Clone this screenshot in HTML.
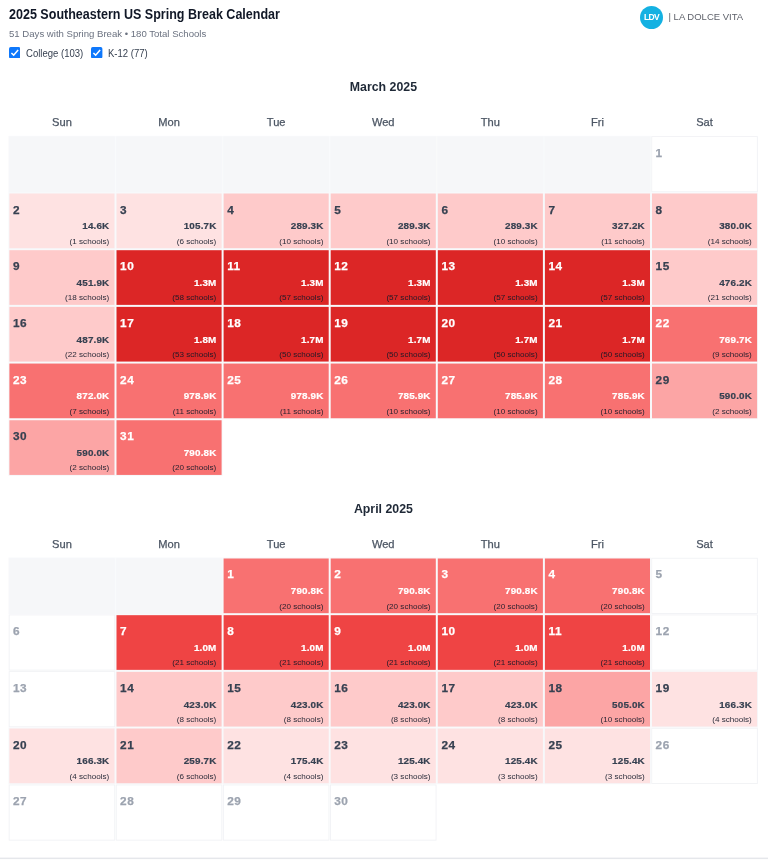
<!DOCTYPE html>
<html lang="en"><head><meta charset="utf-8"><title>2025 Southeastern US Spring Break Calendar</title>
<style>
html,body{margin:0;padding:0;background:#fff;}
body{font-family:"Liberation Sans",sans-serif;color:#1f2937;}
.page{position:relative;width:768px;height:861px;overflow:hidden;background:#fff;}
.title{position:absolute;left:9px;top:6px;margin:0;font-size:14.4px;line-height:17px;transform-origin:0 0;transform:scaleX(0.871);font-weight:700;color:#111827;white-space:nowrap;}
.sub{position:absolute;left:9px;top:27px;font-size:9.6px;line-height:13px;color:#6b7280;white-space:nowrap;}
.cb{position:absolute;width:11.4px;height:11.4px;top:46.8px;}
.cb svg{display:block;width:11.4px;height:11.4px;}
.cb1{left:8.8px}.cb2{left:91.4px}
.lb{position:absolute;top:46.6px;font-size:10.6px;transform-origin:0 50%;transform:scaleX(.9);line-height:13px;color:#374151;white-space:nowrap;}
.lb1{left:26px}.lb2{left:107.6px}
.logo{position:absolute;left:640px;top:6px;width:23px;height:23px;border-radius:50%;background:#14b1e2;color:#fff;font-weight:700;font-size:8.5px;letter-spacing:-0.7px;line-height:23.4px;text-align:center;}
.brand{position:absolute;left:668.5px;top:11px;font-size:9.5px;line-height:12px;color:#5f626b;white-space:nowrap;}
.mt{position:absolute;left:0;width:766.8px;text-align:center;font-size:12.35px;line-height:16px;font-weight:700;color:#1f2937;}
.dh{position:absolute;width:107.1px;text-align:center;font-size:11.1px;line-height:14px;color:#4b5563;-webkit-text-stroke:.25px #4b5563;}
.bg{position:absolute;left:0;top:0;display:block;}
.txt{position:absolute;left:0;top:0;width:768px;height:861px;will-change:transform;}
.d{position:absolute;-webkit-text-stroke:.25px currentColor;font-size:11.8px;letter-spacing:.5px;line-height:14px;font-weight:700;color:#374151;white-space:nowrap;}
.d.g{color:#9ca3af;}
.v{position:absolute;-webkit-text-stroke:.2px currentColor;letter-spacing:.15px;margin-right:-.15px;font-size:9.9px;line-height:12px;font-weight:700;color:#374151;white-space:nowrap;}
.s{position:absolute;font-size:8.1px;line-height:10px;color:rgba(17,24,39,.92);white-space:nowrap;}
.w{color:#fff;}

</style></head><body>
<div class="page">
<svg class="bg" width="768" height="861" viewBox="0 0 768 861"><rect x="8.40" y="135.84" width="107.10" height="56.68" fill="#f8f9fb"/><rect x="9.20" y="136.64" width="105.50" height="55.88" fill="#f6f7f9"/><rect x="115.50" y="135.84" width="107.10" height="56.68" fill="#f8f9fb"/><rect x="116.30" y="136.64" width="105.50" height="55.88" fill="#f6f7f9"/><rect x="222.60" y="135.84" width="107.10" height="56.68" fill="#f8f9fb"/><rect x="223.40" y="136.64" width="105.50" height="55.88" fill="#f6f7f9"/><rect x="329.70" y="135.84" width="107.10" height="56.68" fill="#f8f9fb"/><rect x="330.50" y="136.64" width="105.50" height="55.88" fill="#f6f7f9"/><rect x="436.80" y="135.84" width="107.10" height="56.68" fill="#f8f9fb"/><rect x="437.60" y="136.64" width="105.50" height="55.88" fill="#f6f7f9"/><rect x="543.90" y="135.84" width="107.10" height="56.68" fill="#f8f9fb"/><rect x="544.70" y="136.64" width="105.50" height="55.88" fill="#f6f7f9"/><rect x="651.30" y="136.14" width="106.50" height="56.08" fill="#f1f2f5"/><rect x="652.20" y="137.04" width="104.70" height="54.28" fill="#ffffff"/><rect x="8.40" y="192.52" width="107.10" height="56.68" fill="#f7f8fa"/><rect x="9.40" y="193.52" width="105.10" height="54.68" fill="#fee2e2"/><rect x="115.50" y="192.52" width="107.10" height="56.68" fill="#f7f8fa"/><rect x="116.50" y="193.52" width="105.10" height="54.68" fill="#fee2e2"/><rect x="222.60" y="192.52" width="107.10" height="56.68" fill="#f7f8fa"/><rect x="223.60" y="193.52" width="105.10" height="54.68" fill="#fecaca"/><rect x="329.70" y="192.52" width="107.10" height="56.68" fill="#f7f8fa"/><rect x="330.70" y="193.52" width="105.10" height="54.68" fill="#fecaca"/><rect x="436.80" y="192.52" width="107.10" height="56.68" fill="#f7f8fa"/><rect x="437.80" y="193.52" width="105.10" height="54.68" fill="#fecaca"/><rect x="543.90" y="192.52" width="107.10" height="56.68" fill="#f7f8fa"/><rect x="544.90" y="193.52" width="105.10" height="54.68" fill="#fecaca"/><rect x="651.00" y="192.52" width="107.10" height="56.68" fill="#f7f8fa"/><rect x="652.00" y="193.52" width="105.10" height="54.68" fill="#fecaca"/><rect x="8.40" y="249.20" width="107.10" height="56.68" fill="#f7f8fa"/><rect x="9.40" y="250.20" width="105.10" height="54.68" fill="#fecaca"/><rect x="115.50" y="249.20" width="107.10" height="56.68" fill="#f7f8fa"/><rect x="116.50" y="250.20" width="105.10" height="54.68" fill="#dc2626"/><rect x="222.60" y="249.20" width="107.10" height="56.68" fill="#f7f8fa"/><rect x="223.60" y="250.20" width="105.10" height="54.68" fill="#dc2626"/><rect x="329.70" y="249.20" width="107.10" height="56.68" fill="#f7f8fa"/><rect x="330.70" y="250.20" width="105.10" height="54.68" fill="#dc2626"/><rect x="436.80" y="249.20" width="107.10" height="56.68" fill="#f7f8fa"/><rect x="437.80" y="250.20" width="105.10" height="54.68" fill="#dc2626"/><rect x="543.90" y="249.20" width="107.10" height="56.68" fill="#f7f8fa"/><rect x="544.90" y="250.20" width="105.10" height="54.68" fill="#dc2626"/><rect x="651.00" y="249.20" width="107.10" height="56.68" fill="#f7f8fa"/><rect x="652.00" y="250.20" width="105.10" height="54.68" fill="#fecaca"/><rect x="8.40" y="305.88" width="107.10" height="56.68" fill="#f7f8fa"/><rect x="9.40" y="306.88" width="105.10" height="54.68" fill="#fecaca"/><rect x="115.50" y="305.88" width="107.10" height="56.68" fill="#f7f8fa"/><rect x="116.50" y="306.88" width="105.10" height="54.68" fill="#dc2626"/><rect x="222.60" y="305.88" width="107.10" height="56.68" fill="#f7f8fa"/><rect x="223.60" y="306.88" width="105.10" height="54.68" fill="#dc2626"/><rect x="329.70" y="305.88" width="107.10" height="56.68" fill="#f7f8fa"/><rect x="330.70" y="306.88" width="105.10" height="54.68" fill="#dc2626"/><rect x="436.80" y="305.88" width="107.10" height="56.68" fill="#f7f8fa"/><rect x="437.80" y="306.88" width="105.10" height="54.68" fill="#dc2626"/><rect x="543.90" y="305.88" width="107.10" height="56.68" fill="#f7f8fa"/><rect x="544.90" y="306.88" width="105.10" height="54.68" fill="#dc2626"/><rect x="651.00" y="305.88" width="107.10" height="56.68" fill="#f7f8fa"/><rect x="652.00" y="306.88" width="105.10" height="54.68" fill="#f87171"/><rect x="8.40" y="362.56" width="107.10" height="56.68" fill="#f7f8fa"/><rect x="9.40" y="363.56" width="105.10" height="54.68" fill="#f87171"/><rect x="115.50" y="362.56" width="107.10" height="56.68" fill="#f7f8fa"/><rect x="116.50" y="363.56" width="105.10" height="54.68" fill="#f87171"/><rect x="222.60" y="362.56" width="107.10" height="56.68" fill="#f7f8fa"/><rect x="223.60" y="363.56" width="105.10" height="54.68" fill="#f87171"/><rect x="329.70" y="362.56" width="107.10" height="56.68" fill="#f7f8fa"/><rect x="330.70" y="363.56" width="105.10" height="54.68" fill="#f87171"/><rect x="436.80" y="362.56" width="107.10" height="56.68" fill="#f7f8fa"/><rect x="437.80" y="363.56" width="105.10" height="54.68" fill="#f87171"/><rect x="543.90" y="362.56" width="107.10" height="56.68" fill="#f7f8fa"/><rect x="544.90" y="363.56" width="105.10" height="54.68" fill="#f87171"/><rect x="651.00" y="362.56" width="107.10" height="56.68" fill="#f7f8fa"/><rect x="652.00" y="363.56" width="105.10" height="54.68" fill="#fca5a5"/><rect x="8.40" y="419.24" width="107.10" height="56.68" fill="#f7f8fa"/><rect x="9.40" y="420.24" width="105.10" height="54.68" fill="#fca5a5"/><rect x="115.50" y="419.24" width="107.10" height="56.68" fill="#f7f8fa"/><rect x="116.50" y="420.24" width="105.10" height="54.68" fill="#f87171"/><rect x="8.40" y="557.50" width="107.10" height="56.68" fill="#f8f9fb"/><rect x="9.20" y="558.30" width="105.50" height="55.88" fill="#f6f7f9"/><rect x="115.50" y="557.50" width="107.10" height="56.68" fill="#f8f9fb"/><rect x="116.30" y="558.30" width="105.50" height="55.88" fill="#f6f7f9"/><rect x="222.60" y="557.50" width="107.10" height="56.68" fill="#f7f8fa"/><rect x="223.60" y="558.50" width="105.10" height="54.68" fill="#f87171"/><rect x="329.70" y="557.50" width="107.10" height="56.68" fill="#f7f8fa"/><rect x="330.70" y="558.50" width="105.10" height="54.68" fill="#f87171"/><rect x="436.80" y="557.50" width="107.10" height="56.68" fill="#f7f8fa"/><rect x="437.80" y="558.50" width="105.10" height="54.68" fill="#f87171"/><rect x="543.90" y="557.50" width="107.10" height="56.68" fill="#f7f8fa"/><rect x="544.90" y="558.50" width="105.10" height="54.68" fill="#f87171"/><rect x="651.30" y="557.80" width="106.50" height="56.08" fill="#f1f2f5"/><rect x="652.20" y="558.70" width="104.70" height="54.28" fill="#ffffff"/><rect x="8.70" y="614.48" width="106.50" height="56.08" fill="#f1f2f5"/><rect x="9.60" y="615.38" width="104.70" height="54.28" fill="#ffffff"/><rect x="115.50" y="614.18" width="107.10" height="56.68" fill="#f7f8fa"/><rect x="116.50" y="615.18" width="105.10" height="54.68" fill="#ef4444"/><rect x="222.60" y="614.18" width="107.10" height="56.68" fill="#f7f8fa"/><rect x="223.60" y="615.18" width="105.10" height="54.68" fill="#ef4444"/><rect x="329.70" y="614.18" width="107.10" height="56.68" fill="#f7f8fa"/><rect x="330.70" y="615.18" width="105.10" height="54.68" fill="#ef4444"/><rect x="436.80" y="614.18" width="107.10" height="56.68" fill="#f7f8fa"/><rect x="437.80" y="615.18" width="105.10" height="54.68" fill="#ef4444"/><rect x="543.90" y="614.18" width="107.10" height="56.68" fill="#f7f8fa"/><rect x="544.90" y="615.18" width="105.10" height="54.68" fill="#ef4444"/><rect x="651.30" y="614.48" width="106.50" height="56.08" fill="#f1f2f5"/><rect x="652.20" y="615.38" width="104.70" height="54.28" fill="#ffffff"/><rect x="8.70" y="671.16" width="106.50" height="56.08" fill="#f1f2f5"/><rect x="9.60" y="672.06" width="104.70" height="54.28" fill="#ffffff"/><rect x="115.50" y="670.86" width="107.10" height="56.68" fill="#f7f8fa"/><rect x="116.50" y="671.86" width="105.10" height="54.68" fill="#fecaca"/><rect x="222.60" y="670.86" width="107.10" height="56.68" fill="#f7f8fa"/><rect x="223.60" y="671.86" width="105.10" height="54.68" fill="#fecaca"/><rect x="329.70" y="670.86" width="107.10" height="56.68" fill="#f7f8fa"/><rect x="330.70" y="671.86" width="105.10" height="54.68" fill="#fecaca"/><rect x="436.80" y="670.86" width="107.10" height="56.68" fill="#f7f8fa"/><rect x="437.80" y="671.86" width="105.10" height="54.68" fill="#fecaca"/><rect x="543.90" y="670.86" width="107.10" height="56.68" fill="#f7f8fa"/><rect x="544.90" y="671.86" width="105.10" height="54.68" fill="#fca5a5"/><rect x="651.00" y="670.86" width="107.10" height="56.68" fill="#f7f8fa"/><rect x="652.00" y="671.86" width="105.10" height="54.68" fill="#fee2e2"/><rect x="8.40" y="727.54" width="107.10" height="56.68" fill="#f7f8fa"/><rect x="9.40" y="728.54" width="105.10" height="54.68" fill="#fee2e2"/><rect x="115.50" y="727.54" width="107.10" height="56.68" fill="#f7f8fa"/><rect x="116.50" y="728.54" width="105.10" height="54.68" fill="#fecaca"/><rect x="222.60" y="727.54" width="107.10" height="56.68" fill="#f7f8fa"/><rect x="223.60" y="728.54" width="105.10" height="54.68" fill="#fee2e2"/><rect x="329.70" y="727.54" width="107.10" height="56.68" fill="#f7f8fa"/><rect x="330.70" y="728.54" width="105.10" height="54.68" fill="#fee2e2"/><rect x="436.80" y="727.54" width="107.10" height="56.68" fill="#f7f8fa"/><rect x="437.80" y="728.54" width="105.10" height="54.68" fill="#fee2e2"/><rect x="543.90" y="727.54" width="107.10" height="56.68" fill="#f7f8fa"/><rect x="544.90" y="728.54" width="105.10" height="54.68" fill="#fee2e2"/><rect x="651.30" y="727.84" width="106.50" height="56.08" fill="#f1f2f5"/><rect x="652.20" y="728.74" width="104.70" height="54.28" fill="#ffffff"/><rect x="8.70" y="784.52" width="106.50" height="56.08" fill="#f1f2f5"/><rect x="9.60" y="785.42" width="104.70" height="54.28" fill="#ffffff"/><rect x="115.80" y="784.52" width="106.50" height="56.08" fill="#f1f2f5"/><rect x="116.70" y="785.42" width="104.70" height="54.28" fill="#ffffff"/><rect x="222.90" y="784.52" width="106.50" height="56.08" fill="#f1f2f5"/><rect x="223.80" y="785.42" width="104.70" height="54.28" fill="#ffffff"/><rect x="330.00" y="784.52" width="106.50" height="56.08" fill="#f1f2f5"/><rect x="330.90" y="785.42" width="104.70" height="54.28" fill="#ffffff"/><rect x="0" y="857.6" width="768" height="1.5" fill="#e5e7eb"/></svg>
<div class="txt">
<h1 class="title">2025 Southeastern US Spring Break Calendar</h1>
<div class="sub">51 Days with Spring Break • 180 Total Schools</div>
<div class="cb cb1"><svg viewBox="0 0 11 11"><rect width="11" height="11" rx="1.6" fill="#0f78fb"/><path d="M2.3 5.8 L4.5 7.9 L8.8 2.8" fill="none" stroke="#fff" stroke-width="1.5" stroke-linecap="butt"/></svg></div>
<div class="lb lb1">College (103)</div>
<div class="cb cb2"><svg viewBox="0 0 11 11"><rect width="11" height="11" rx="1.6" fill="#0f78fb"/><path d="M2.3 5.8 L4.5 7.9 L8.8 2.8" fill="none" stroke="#fff" stroke-width="1.5" stroke-linecap="butt"/></svg></div>
<div class="lb lb2">K-12 (77)</div>
<div class="logo"><span>LDV</span></div>
<div class="brand">| LA DOLCE VITA</div>
<div class="mt" style="top:79px">March 2025</div>
<div class="dh" style="left:8.40px;top:115px">Sun</div>
<div class="dh" style="left:115.50px;top:115px">Mon</div>
<div class="dh" style="left:222.60px;top:115px">Tue</div>
<div class="dh" style="left:329.70px;top:115px">Wed</div>
<div class="dh" style="left:436.80px;top:115px">Thu</div>
<div class="dh" style="left:543.90px;top:115px">Fri</div>
<div class="dh" style="left:651.00px;top:115px">Sat</div>
<span class="d g" style="left:655.60px;top:145.91px">1</span>
<span class="d" style="left:13.00px;top:202.91px">2</span><span class="v" style="right:658.80px;top:219.60px">14.6K</span><span class="s" style="right:658.80px;top:237.19px">(1 schools)</span>
<span class="d" style="left:120.10px;top:202.91px">3</span><span class="v" style="right:551.70px;top:219.60px">105.7K</span><span class="s" style="right:551.70px;top:237.19px">(6 schools)</span>
<span class="d" style="left:227.20px;top:202.91px">4</span><span class="v" style="right:444.60px;top:219.60px">289.3K</span><span class="s" style="right:444.60px;top:237.19px">(10 schools)</span>
<span class="d" style="left:334.30px;top:202.91px">5</span><span class="v" style="right:337.50px;top:219.60px">289.3K</span><span class="s" style="right:337.50px;top:237.19px">(10 schools)</span>
<span class="d" style="left:441.40px;top:202.91px">6</span><span class="v" style="right:230.40px;top:219.60px">289.3K</span><span class="s" style="right:230.40px;top:237.19px">(10 schools)</span>
<span class="d" style="left:548.50px;top:202.91px">7</span><span class="v" style="right:123.30px;top:219.60px">327.2K</span><span class="s" style="right:123.30px;top:237.19px">(11 schools)</span>
<span class="d" style="left:655.60px;top:202.91px">8</span><span class="v" style="right:16.20px;top:219.60px">380.0K</span><span class="s" style="right:16.20px;top:237.19px">(14 schools)</span>
<span class="d" style="left:13.00px;top:258.91px">9</span><span class="v" style="right:658.80px;top:276.60px">451.9K</span><span class="s" style="right:658.80px;top:293.19px">(18 schools)</span>
<span class="d w" style="left:120.10px;top:258.91px">10</span><span class="v w" style="right:551.70px;top:276.60px">1.3M</span><span class="s" style="right:551.70px;top:293.19px">(58 schools)</span>
<span class="d w" style="left:227.20px;top:258.91px">11</span><span class="v w" style="right:444.60px;top:276.60px">1.3M</span><span class="s" style="right:444.60px;top:293.19px">(57 schools)</span>
<span class="d w" style="left:334.30px;top:258.91px">12</span><span class="v w" style="right:337.50px;top:276.60px">1.3M</span><span class="s" style="right:337.50px;top:293.19px">(57 schools)</span>
<span class="d w" style="left:441.40px;top:258.91px">13</span><span class="v w" style="right:230.40px;top:276.60px">1.3M</span><span class="s" style="right:230.40px;top:293.19px">(57 schools)</span>
<span class="d w" style="left:548.50px;top:258.91px">14</span><span class="v w" style="right:123.30px;top:276.60px">1.3M</span><span class="s" style="right:123.30px;top:293.19px">(57 schools)</span>
<span class="d" style="left:655.60px;top:258.91px">15</span><span class="v" style="right:16.20px;top:276.60px">476.2K</span><span class="s" style="right:16.20px;top:293.19px">(21 schools)</span>
<span class="d" style="left:13.00px;top:315.91px">16</span><span class="v" style="right:658.80px;top:333.60px">487.9K</span><span class="s" style="right:658.80px;top:350.19px">(22 schools)</span>
<span class="d w" style="left:120.10px;top:315.91px">17</span><span class="v w" style="right:551.70px;top:333.60px">1.8M</span><span class="s" style="right:551.70px;top:350.19px">(53 schools)</span>
<span class="d w" style="left:227.20px;top:315.91px">18</span><span class="v w" style="right:444.60px;top:333.60px">1.7M</span><span class="s" style="right:444.60px;top:350.19px">(50 schools)</span>
<span class="d w" style="left:334.30px;top:315.91px">19</span><span class="v w" style="right:337.50px;top:333.60px">1.7M</span><span class="s" style="right:337.50px;top:350.19px">(50 schools)</span>
<span class="d w" style="left:441.40px;top:315.91px">20</span><span class="v w" style="right:230.40px;top:333.60px">1.7M</span><span class="s" style="right:230.40px;top:350.19px">(50 schools)</span>
<span class="d w" style="left:548.50px;top:315.91px">21</span><span class="v w" style="right:123.30px;top:333.60px">1.7M</span><span class="s" style="right:123.30px;top:350.19px">(50 schools)</span>
<span class="d w" style="left:655.60px;top:315.91px">22</span><span class="v w" style="right:16.20px;top:333.60px">769.7K</span><span class="s" style="right:16.20px;top:350.19px">(9 schools)</span>
<span class="d w" style="left:13.00px;top:372.91px">23</span><span class="v w" style="right:658.80px;top:389.60px">872.0K</span><span class="s" style="right:658.80px;top:407.19px">(7 schools)</span>
<span class="d w" style="left:120.10px;top:372.91px">24</span><span class="v w" style="right:551.70px;top:389.60px">978.9K</span><span class="s" style="right:551.70px;top:407.19px">(11 schools)</span>
<span class="d w" style="left:227.20px;top:372.91px">25</span><span class="v w" style="right:444.60px;top:389.60px">978.9K</span><span class="s" style="right:444.60px;top:407.19px">(11 schools)</span>
<span class="d w" style="left:334.30px;top:372.91px">26</span><span class="v w" style="right:337.50px;top:389.60px">785.9K</span><span class="s" style="right:337.50px;top:407.19px">(10 schools)</span>
<span class="d w" style="left:441.40px;top:372.91px">27</span><span class="v w" style="right:230.40px;top:389.60px">785.9K</span><span class="s" style="right:230.40px;top:407.19px">(10 schools)</span>
<span class="d w" style="left:548.50px;top:372.91px">28</span><span class="v w" style="right:123.30px;top:389.60px">785.9K</span><span class="s" style="right:123.30px;top:407.19px">(10 schools)</span>
<span class="d" style="left:655.60px;top:372.91px">29</span><span class="v" style="right:16.20px;top:389.60px">590.0K</span><span class="s" style="right:16.20px;top:407.19px">(2 schools)</span>
<span class="d" style="left:13.00px;top:428.91px">30</span><span class="v" style="right:658.80px;top:446.60px">590.0K</span><span class="s" style="right:658.80px;top:463.19px">(2 schools)</span>
<span class="d w" style="left:120.10px;top:428.91px">31</span><span class="v w" style="right:551.70px;top:446.60px">790.8K</span><span class="s" style="right:551.70px;top:463.19px">(20 schools)</span>
<div class="mt" style="top:500.7px">April 2025</div>
<div class="dh" style="left:8.40px;top:536.7px">Sun</div>
<div class="dh" style="left:115.50px;top:536.7px">Mon</div>
<div class="dh" style="left:222.60px;top:536.7px">Tue</div>
<div class="dh" style="left:329.70px;top:536.7px">Wed</div>
<div class="dh" style="left:436.80px;top:536.7px">Thu</div>
<div class="dh" style="left:543.90px;top:536.7px">Fri</div>
<div class="dh" style="left:651.00px;top:536.7px">Sat</div>
<span class="d w" style="left:227.20px;top:566.91px">1</span><span class="v w" style="right:444.60px;top:584.60px">790.8K</span><span class="s" style="right:444.60px;top:602.19px">(20 schools)</span>
<span class="d w" style="left:334.30px;top:566.91px">2</span><span class="v w" style="right:337.50px;top:584.60px">790.8K</span><span class="s" style="right:337.50px;top:602.19px">(20 schools)</span>
<span class="d w" style="left:441.40px;top:566.91px">3</span><span class="v w" style="right:230.40px;top:584.60px">790.8K</span><span class="s" style="right:230.40px;top:602.19px">(20 schools)</span>
<span class="d w" style="left:548.50px;top:566.91px">4</span><span class="v w" style="right:123.30px;top:584.60px">790.8K</span><span class="s" style="right:123.30px;top:602.19px">(20 schools)</span>
<span class="d g" style="left:655.60px;top:566.91px">5</span>
<span class="d g" style="left:13.00px;top:623.91px">6</span>
<span class="d w" style="left:120.10px;top:623.91px">7</span><span class="v w" style="right:551.70px;top:641.60px">1.0M</span><span class="s" style="right:551.70px;top:658.19px">(21 schools)</span>
<span class="d w" style="left:227.20px;top:623.91px">8</span><span class="v w" style="right:444.60px;top:641.60px">1.0M</span><span class="s" style="right:444.60px;top:658.19px">(21 schools)</span>
<span class="d w" style="left:334.30px;top:623.91px">9</span><span class="v w" style="right:337.50px;top:641.60px">1.0M</span><span class="s" style="right:337.50px;top:658.19px">(21 schools)</span>
<span class="d w" style="left:441.40px;top:623.91px">10</span><span class="v w" style="right:230.40px;top:641.60px">1.0M</span><span class="s" style="right:230.40px;top:658.19px">(21 schools)</span>
<span class="d w" style="left:548.50px;top:623.91px">11</span><span class="v w" style="right:123.30px;top:641.60px">1.0M</span><span class="s" style="right:123.30px;top:658.19px">(21 schools)</span>
<span class="d g" style="left:655.60px;top:623.91px">12</span>
<span class="d g" style="left:13.00px;top:680.91px">13</span>
<span class="d" style="left:120.10px;top:680.91px">14</span><span class="v" style="right:551.70px;top:698.60px">423.0K</span><span class="s" style="right:551.70px;top:715.19px">(8 schools)</span>
<span class="d" style="left:227.20px;top:680.91px">15</span><span class="v" style="right:444.60px;top:698.60px">423.0K</span><span class="s" style="right:444.60px;top:715.19px">(8 schools)</span>
<span class="d" style="left:334.30px;top:680.91px">16</span><span class="v" style="right:337.50px;top:698.60px">423.0K</span><span class="s" style="right:337.50px;top:715.19px">(8 schools)</span>
<span class="d" style="left:441.40px;top:680.91px">17</span><span class="v" style="right:230.40px;top:698.60px">423.0K</span><span class="s" style="right:230.40px;top:715.19px">(8 schools)</span>
<span class="d" style="left:548.50px;top:680.91px">18</span><span class="v" style="right:123.30px;top:698.60px">505.0K</span><span class="s" style="right:123.30px;top:715.19px">(10 schools)</span>
<span class="d" style="left:655.60px;top:680.91px">19</span><span class="v" style="right:16.20px;top:698.60px">166.3K</span><span class="s" style="right:16.20px;top:715.19px">(4 schools)</span>
<span class="d" style="left:13.00px;top:737.91px">20</span><span class="v" style="right:658.80px;top:754.60px">166.3K</span><span class="s" style="right:658.80px;top:772.19px">(4 schools)</span>
<span class="d" style="left:120.10px;top:737.91px">21</span><span class="v" style="right:551.70px;top:754.60px">259.7K</span><span class="s" style="right:551.70px;top:772.19px">(6 schools)</span>
<span class="d" style="left:227.20px;top:737.91px">22</span><span class="v" style="right:444.60px;top:754.60px">175.4K</span><span class="s" style="right:444.60px;top:772.19px">(4 schools)</span>
<span class="d" style="left:334.30px;top:737.91px">23</span><span class="v" style="right:337.50px;top:754.60px">125.4K</span><span class="s" style="right:337.50px;top:772.19px">(3 schools)</span>
<span class="d" style="left:441.40px;top:737.91px">24</span><span class="v" style="right:230.40px;top:754.60px">125.4K</span><span class="s" style="right:230.40px;top:772.19px">(3 schools)</span>
<span class="d" style="left:548.50px;top:737.91px">25</span><span class="v" style="right:123.30px;top:754.60px">125.4K</span><span class="s" style="right:123.30px;top:772.19px">(3 schools)</span>
<span class="d g" style="left:655.60px;top:737.91px">26</span>
<span class="d g" style="left:13.00px;top:793.91px">27</span>
<span class="d g" style="left:120.10px;top:793.91px">28</span>
<span class="d g" style="left:227.20px;top:793.91px">29</span>
<span class="d g" style="left:334.30px;top:793.91px">30</span>
</div>
</div>
</body></html>
